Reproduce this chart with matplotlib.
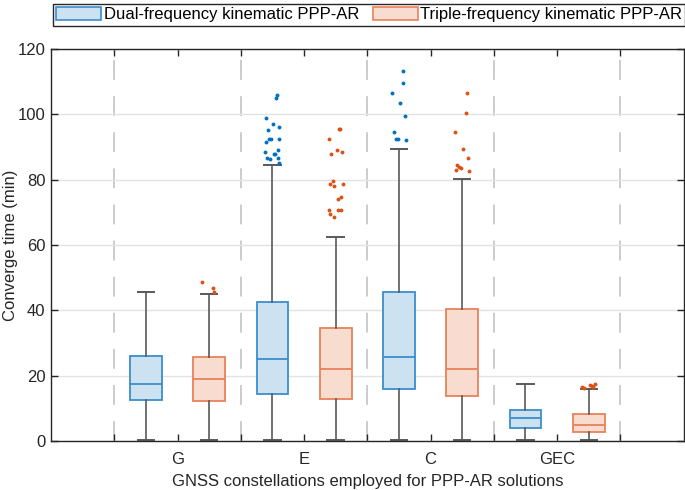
import numpy as np
import matplotlib
matplotlib.use('Agg')
import matplotlib.pyplot as plt
from matplotlib.patches import Patch

plt.rcParams['font.family'] = ['Liberation Sans', 'DejaVu Sans']
plt.rcParams['font.size'] = 12

# data (minutes)
cats = ['G', 'E', 'C', 'GEC']

dual_lo = [0.4, 0.4, 0.4, 0.4]
dual_q1 = [12.4, 14.4, 15.9, 3.9]
dual_med = [17.5, 25.0, 25.8, 6.9]
dual_q3 = [26.0, 42.7, 45.6, 9.4]
dual_hi = [45.6, 84.5, 89.5, 17.5]
dual_out_G = []
dual_out_E = [106.0, 105.0, 99.0, 97.0, 96.0, 95.1, 92.6, 92.6, 92.6, 91.6,
              89.0, 88.0, 88.5, 88.0, 86.5, 86.7, 86.2, 85.0]
dual_out_C = [113.4, 109.5, 106.5, 103.5, 99.5, 94.6, 92.6, 92.1, 92.6]
dual_out_GEC = []

tri_lo = [0.4, 0.4, 0.4, 0.4]
tri_q1 = [12.1, 13.0, 13.9, 2.9]
tri_med = [19.0, 22.0, 22.0, 5.0]
tri_q3 = [25.6, 34.6, 40.5, 8.2]
tri_hi = [45.1, 62.4, 80.2, 15.9]
tri_out_G = [45.6, 46.7, 48.6]
tri_out_E = [95.6, 95.6, 92.6, 89.0, 88.5, 88.0, 79.7, 78.7, 78.2, 78.7,
             74.7, 74.2, 70.7, 70.7, 70.7, 69.6, 68.6]
tri_out_C = [106.5, 100.5, 94.6, 89.5, 86.5, 84.5, 84.0, 82.5, 83.5, 83.0]
tri_out_GEC = [16.4, 16.9, 16.4, 17.0, 17.5, 16.2]

dual_out = [dual_out_G, dual_out_E, dual_out_C, dual_out_GEC]
tri_out = [tri_out_G, tri_out_E, tri_out_C, tri_out_GEC]

blue_edge, blue_fill, blue_pt = '#3a8dcc', '#cce2f1', '#0072BD'
red_edge, red_fill, red_pt = '#e8825a', '#f8dccf', '#D95319'
grey = '#595959'


def make_stats(lo, q1, med, q3, hi):
    return [dict(whislo=lo[i], q1=q1[i], med=med[i], q3=q3[i], whishi=hi[i], fliers=[])
            for i in range(len(med))]


fig = plt.figure(figsize=(6.85, 4.9), dpi=100)
ax = fig.add_axes([0.0745, 0.1, 0.9235, 0.8])

x = np.arange(1, len(cats) + 1)
off = 0.25

for stats, pos, ec, fc, outs, pc in [
        (make_stats(dual_lo, dual_q1, dual_med, dual_q3, dual_hi), x - off,
         blue_edge, blue_fill, dual_out, blue_pt),
        (make_stats(tri_lo, tri_q1, tri_med, tri_q3, tri_hi), x + off,
         red_edge, red_fill, tri_out, red_pt)]:
    ax.bxp(stats, positions=pos, widths=0.25, patch_artist=True, showfliers=False,
           capwidths=0.13, manage_ticks=False,
           boxprops=dict(facecolor=fc, edgecolor=ec, linewidth=1.3),
           medianprops=dict(color=ec, linewidth=1.3),
           whiskerprops=dict(color=grey, linewidth=1.2),
           capprops=dict(color=grey, linewidth=1.4))
    for p, o in zip(pos, outs):
        if len(o) == 0:
            continue
        k = np.arange(len(o))
        jit = 0.055 * np.sin(1.9 * k + 0.7)
        ax.plot(p + jit, o, 'o', ms=2.8, color=pc, mec='none', zorder=4)

# dashed separators between constellation groups
for xs in np.arange(0.5, len(cats) + 1, 1.0):
    ax.axvline(xs, color='#c8c8c8', lw=1.3, dashes=(11, 9), zorder=0)

ax.set_xlim(0, 5)
ax.set_ylim(0, 120)
ax.set_xticks(x)
ax.set_xticklabels(cats)
ax.set_xticks(np.arange(0.5, 5, 1.0), minor=True)
ax.set_yticks(np.arange(0, 121, 20))
ax.yaxis.grid(True, color='#e3e3e3', lw=1.0)
ax.set_axisbelow(True)
ax.tick_params(which='both', direction='in', top=True, right=True,
               colors='#262626', labelcolor='#262626', length=5, width=1)
ax.tick_params(axis='x', pad=8)
ax.tick_params(axis='y', pad=4)
for s in ax.spines.values():
    s.set_color('#262626')
    s.set_linewidth(1.0)

ax.set_xlabel('GNSS constellations employed for PPP-AR solutions', color='#262626', labelpad=5)
ax.set_ylabel('Converge time (min)', color='#262626')
ax.yaxis.set_label_coords(-0.053, 0.5)

handles = [Patch(facecolor=blue_fill, edgecolor=blue_edge, lw=1.2),
           Patch(facecolor=red_fill, edgecolor=red_edge, lw=1.2)]
leg = fig.legend(handles, ['Dual-frequency kinematic PPP-AR', 'Triple-frequency kinematic PPP-AR'],
                 ncol=2, loc='upper center', bbox_to_anchor=(0.539, 0.996), borderaxespad=0.1,
                 frameon=True, fancybox=False, edgecolor='#262626', framealpha=1,
                 handlelength=2.7, handleheight=0.85, handletextpad=0.15,
                 columnspacing=0.8, borderpad=0.2, fontsize=12)
leg.get_frame().set_linewidth(1.0)

fig.savefig('out.png', dpi=100)
